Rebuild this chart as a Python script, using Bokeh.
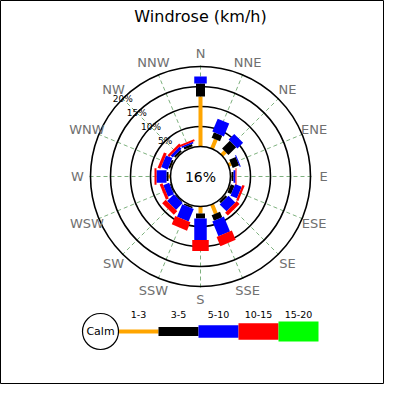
import numpy as np
from bokeh.plotting import figure
from bokeh.models import ColumnDataSource
from bokeh.core.properties import value
from bokeh.embed import file_html
from bokeh.resources import INLINE

# ---------------- data ----------------
directions = ["N", "NNE", "NE", "ENE", "E", "ESE", "SE", "SSE",
              "S", "SSW", "SW", "WSW", "W", "WNW", "NW", "NNW"]
speed_bins = ["1-3", "3-5", "5-10", "10-15", "15-20"]
pct_1_3 = [12.5, 2.5, 1.25, 0.75, 0.25, 0.25, 0.25, 2.5,
           1.75, 0.25, 0.1, 0.1, 0.5, 0.25, 0.25, 0.25]
pct_3_5 = [3.25, 1.5, 2.75, 1.75, 0.5, 1.0, 0.6, 1.5,
           1.25, 0.4, 0.25, 0.25, 0.5, 0.5, 0.5, 0.6]
pct_5_10 = [1.75, 3.5, 2.0, 0.25, 0.5, 1.75, 2.4, 4.0,
            5.4, 3.4, 2.4, 1.6, 2.5, 1.75, 0.75, 0.4]
pct_10_15 = [0.0, 0.0, 0.0, 0.0, 0.25, 0.6, 1.0, 2.5,
             2.75, 2.25, 1.25, 0.75, 0.5, 0.75, 0.6, 0.5]
pct_15_20 = [0.0] * 16
calm_pct = 16
ring_pcts = [5, 10, 15, 20]
title_text = "Windrose (km/h)"

# ---------------- style ----------------
bin_colors = ["orange", "black", "blue", "red", "lime"]
bin_widths = [4, 9, 12.5, 16.5, 20]
CALM_R = 30.0      # radius of calm circle (px)
PX_PER_PCT = 4.0   # radial scale
LABEL_R = 123.0
FONT = value("DejaVu Sans")

def rad(pct):
    return CALM_R + PX_PER_PCT * np.asarray(pct, dtype=float)

p = figure(width=384, height=384, x_range=(-200, 184), y_range=(-208, 176),
           x_axis_type=None, y_axis_type=None, output_backend="svg",
           toolbar_location=None, min_border=0)
p.grid.visible = False
p.outline_line_color = "black"
p.outline_line_width = 1
p.background_fill_color = "white"
p.border_fill_color = "white"

theta = np.deg2rad(np.arange(len(directions)) * 360.0 / len(directions))
sx, cy = np.sin(theta), np.cos(theta)

# dashed direction spokes
r_out = rad(ring_pcts[-1]) + 3
p.segment(x0=CALM_R * sx, y0=CALM_R * cy, x1=r_out * sx, y1=r_out * cy,
          line_color="#6fa86f", line_dash="4 3", line_width=0.9)

# rings
ring_r = rad(ring_pcts)
p.circle(x=np.zeros(len(ring_r)), y=np.zeros(len(ring_r)), radius=ring_r,
         fill_color=None, line_color="black", line_width=1.6)

# stacked bars
series = [pct_1_3, pct_3_5, pct_5_10, pct_10_15, pct_15_20]
cum = np.zeros(len(directions))
for vals, col, w in zip(series, bin_colors, bin_widths):
    v = np.asarray(vals, dtype=float)
    r0 = rad(cum)
    r1 = rad(cum + v)
    keep = v > 0
    src = ColumnDataSource(dict(x0=(r0 * sx)[keep], y0=(r0 * cy)[keep],
                                x1=(r1 * sx)[keep], y1=(r1 * cy)[keep]))
    p.segment(x0="x0", y0="y0", x1="x1", y1="y1", source=src,
              line_color=col, line_width=w, line_cap="butt")
    cum = cum + v

# calm circle
p.circle(x=[0], y=[0], radius=[CALM_R], fill_color="white",
         line_color="black", line_width=1.6)
p.text(x=[0], y=[0], text=[f"{calm_pct}%"], text_font=FONT,
       text_font_size="14px", text_align="center", text_baseline="middle",
       text_color="black")

# ring labels (NW direction)
ang = np.deg2rad(-45)
p.text(x=ring_r * np.sin(ang), y=ring_r * np.cos(ang),
       text=[f"{v}%" for v in ring_pcts], text_font=FONT,
       text_font_size="9px", text_align="center", text_baseline="middle",
       text_color="black")

# direction labels
p.text(x=LABEL_R * sx, y=LABEL_R * cy, text=directions, text_font=FONT,
       text_font_size="13px", text_align="center", text_baseline="middle",
       text_color="#707070")

# title
p.text(x=[0], y=[160], text=[title_text], text_font=FONT,
       text_font_size="16px", text_align="center", text_baseline="middle",
       text_color="black")

# legend
leg_y = -155
calm_x = -100
calm_rr = 18
box_w = 40
x_start = calm_x + calm_rr
idx = np.arange(len(speed_bins))
lx0 = x_start + box_w * idx
lx1 = lx0 + box_w
for i in range(len(speed_bins)):
    p.segment(x0=[lx0[i]], y0=[leg_y], x1=[lx1[i]], y1=[leg_y],
              line_color=bin_colors[i], line_width=bin_widths[i], line_cap="butt")
p.text(x=(lx0 + lx1) / 2, y=np.full(len(speed_bins), leg_y + 17.0),
       text=speed_bins, text_font=FONT, text_font_size="9.5px",
       text_align="center", text_baseline="middle", text_color="black")
p.circle(x=[calm_x], y=[leg_y], radius=[calm_rr], fill_color="white",
         line_color="black", line_width=1.2)
p.text(x=[calm_x], y=[leg_y], text=["Calm"], text_font=FONT,
       text_font_size="11px", text_align="center", text_baseline="middle",
       text_color="black")

open("out.html", "w").write(file_html(p, INLINE))
